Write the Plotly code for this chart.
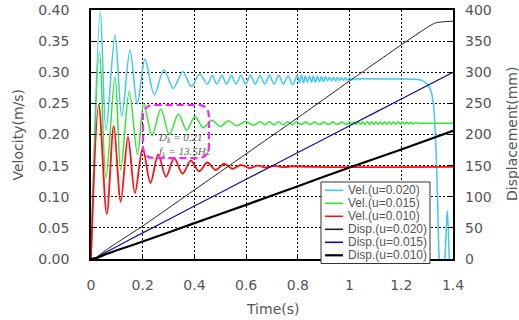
import plotly.graph_objects as go

# ---------------- data ----------------
vel020_t = [0.0, 0.036, 0.058, 0.093, 0.119, 0.151, 0.179, 0.209, 0.245, 0.282, 0.318, 0.355, 0.388, 0.42, 0.45,
            0.469, 0.487, 0.506, 0.524, 0.543, 0.561, 0.58, 0.598, 0.617, 0.635, 0.654, 0.672, 0.69, 0.708,
            0.726, 0.744, 0.762, 0.78,
            0.798, 0.806, 0.814, 0.822, 0.829, 0.837, 0.845, 0.853, 0.860, 0.868, 0.876, 0.884, 0.891, 0.899,
            0.907, 0.915, 0.922, 0.930, 0.938, 0.946, 0.953, 0.961, 0.969, 0.977, 0.984, 0.992, 1.000, 1.008,
            1.015, 1.023, 1.031, 1.039, 1.046, 1.054, 1.062, 1.070, 1.08, 1.10, 1.15, 1.20, 1.25, 1.28, 1.30,
            1.315, 1.325, 1.333, 1.34, 1.347, 1.357, 1.368, 1.378, 1.386, 1.393, 1.40]
vel020_v = [0.0, 0.398, 0.207, 0.36, 0.229, 0.336, 0.249, 0.321, 0.264, 0.304, 0.274, 0.301, 0.277, 0.297, 0.281,
            0.295, 0.281, 0.295, 0.281, 0.295, 0.281, 0.295, 0.281, 0.295, 0.281, 0.295, 0.281, 0.295, 0.281,
            0.295, 0.281, 0.294, 0.280,
            0.295, 0.283, 0.295, 0.283, 0.294, 0.284, 0.294, 0.284, 0.294, 0.284, 0.293, 0.285, 0.293, 0.285,
            0.293, 0.286, 0.292, 0.286, 0.292, 0.286, 0.292, 0.287, 0.291, 0.287, 0.291, 0.287, 0.291, 0.288,
            0.290, 0.288, 0.290, 0.288, 0.290, 0.289, 0.290, 0.289, 0.2895, 0.2893, 0.289, 0.289, 0.2888, 0.287, 0.281,
            0.27, 0.245, 0.19, 0.10, 0.0, -0.03, 0.0, 0.078, 0.0, -0.03, 0.0]

vel015_t = [0.0, 0.033, 0.058, 0.093, 0.115, 0.148, 0.18, 0.204, 0.236, 0.27, 0.303, 0.338, 0.37, 0.402, 0.434,
            0.467, 0.5, 0.531, 0.563, 0.596, 0.628, 0.655, 0.673, 0.690, 0.708, 0.725, 0.743, 0.760, 0.778,
            0.795, 0.813, 0.830, 0.848, 0.865, 0.883, 0.900, 0.918, 0.935, 0.953, 0.970, 0.988,
            1.0, 1.0085, 1.017, 1.0255, 1.034, 1.0425, 1.051, 1.0595, 1.068, 1.0765, 1.085, 1.0935, 1.102,
            1.1105, 1.119, 1.1275, 1.136, 1.1445, 1.153, 1.1615, 1.170, 1.1785, 1.187, 1.1955, 1.204, 1.2125,
            1.221, 1.2295, 1.238, 1.2465, 1.255, 1.27, 1.30, 1.40]
vel015_v = [0.0, 0.333, 0.13, 0.293, 0.143, 0.269, 0.168, 0.250, 0.198, 0.241, 0.200, 0.233, 0.207, 0.229, 0.211,
            0.223, 0.213, 0.222, 0.214, 0.221, 0.215, 0.2205, 0.2155, 0.2205, 0.2155, 0.2205, 0.2155, 0.2205, 0.2155,
            0.2205, 0.216, 0.220, 0.216, 0.220, 0.216, 0.220, 0.216, 0.220, 0.216, 0.220, 0.216,
            0.2205, 0.216, 0.2205, 0.216, 0.2205, 0.216, 0.2205, 0.216, 0.2205, 0.216, 0.2205, 0.216, 0.2205,
            0.216, 0.2205, 0.216, 0.2205, 0.216, 0.2205, 0.216, 0.2205, 0.216, 0.2205, 0.2165, 0.220, 0.2165,
            0.220, 0.217, 0.2195, 0.217, 0.219, 0.218, 0.218, 0.218]

vel010_t = [0.0, 0.03, 0.061, 0.088, 0.115, 0.143, 0.17, 0.2, 0.23, 0.26, 0.29, 0.322, 0.354, 0.386, 0.418,
            0.45, 0.482, 0.515, 0.548, 0.58, 0.612, 0.645, 0.677, 0.71, 0.745, 0.78, 0.85, 1.40]
vel010_v = [0.0, 0.248, 0.072, 0.214, 0.092, 0.196, 0.106, 0.178, 0.122, 0.168, 0.132, 0.162, 0.137, 0.158, 0.141,
            0.155, 0.143, 0.153, 0.145, 0.151, 0.146, 0.150, 0.147, 0.1495, 0.1475, 0.149, 0.148, 0.148]

disp020_t = [0.0, 0.02, 0.05, 0.1, 0.2, 0.4, 0.6, 0.8, 1.0, 1.2, 1.3, 1.33, 1.36, 1.4]
disp020_d = [0.0, 2.5, 12, 26, 53, 111, 169, 227, 286, 344, 372, 379, 381, 382]

disp015_t = [0.0, 0.02, 0.05, 0.1, 0.2, 0.4, 0.6, 0.8, 1.0, 1.2, 1.4]
disp015_d = [0.0, 2, 9, 20, 42, 85, 128, 171, 214, 257, 300]

disp010_t = [0.0, 0.02, 0.05, 0.1, 0.2, 0.4, 0.6, 0.8, 1.0, 1.2, 1.4]
disp010_d = [0.0, 1.5, 6.5, 14, 28, 57.6, 87, 117, 147, 176, 206]

x_ticks = [0, 0.2, 0.4, 0.6, 0.8, 1.0, 1.2, 1.4]
x_tick_labels = ["0", "0.2", "0.4", "0.6", "0.8", "1", "1.2", "1.4"]
v_ticks = [0.0, 0.05, 0.10, 0.15, 0.20, 0.25, 0.30, 0.35, 0.40]
d_ticks = [0, 50, 100, 150, 200, 250, 300, 350, 400]

legend_names = ["Vel.(u=0.020)", "Vel.(u=0.015)", "Vel.(u=0.010)",
                "Disp.(u=0.020)", "Disp.(u=0.015)", "Disp.(u=0.010)"]
colors = ["#3FC8F2", "#33E633", "#FF1010", "#222222", "#101090", "#000000"]
widths = [1.5, 1.5, 1.8, 1.0, 1.2, 2.2]

x_title = "Time(s)"
y_title = "Velocity(m/s)"
y2_title = "Displacement(mm)"
annot_text = ("<i>D</i><sub><i>k</i></sub><i> = 0.21</i><br>"
              "<i>f</i><sub><i>k</i></sub><i> = 13.5Hz</i>")

# ---------------- figure ----------------
fig = go.Figure()
series = [(disp020_t, disp020_d, 3), (disp015_t, disp015_d, 4), (disp010_t, disp010_d, 5)]
for t, d, i in series:
    fig.add_trace(go.Scatter(x=t, y=d, mode="lines", name=legend_names[i], yaxis="y2",
                             line=dict(color=colors[i], width=widths[i], shape="spline", smoothing=0.6),
                             showlegend=False))
vseries = [(vel020_t, vel020_v, 0), (vel015_t, vel015_v, 1), (vel010_t, vel010_v, 2)]
for t, v, i in vseries:
    fig.add_trace(go.Scatter(x=t, y=v, mode="lines", name=legend_names[i], yaxis="y",
                             line=dict(color=colors[i], width=widths[i], shape="spline", smoothing=0.9),
                             showlegend=False))

TXT = "#555555"
tickfont = dict(family="DejaVu Sans", size=14, color=TXT)
titlefont = dict(family="DejaVu Sans", size=14, color=TXT)

fig.update_layout(
    width=519, height=320,
    margin=dict(l=91, r=66, t=10, b=61, autoexpand=False),
    paper_bgcolor="white", plot_bgcolor="white",
    showlegend=False,
    xaxis=dict(range=[0, 1.4], tickvals=x_ticks, ticktext=x_tick_labels, tickfont=tickfont,
               showgrid=True, gridcolor="black", griddash="2px,2px", gridwidth=1.3,
               showline=True, linecolor="black", linewidth=1.5, mirror=True,
               ticks="inside", ticklen=5, tickcolor="black", ticklabelstandoff=12,
               zeroline=False),
    yaxis=dict(range=[0, 0.4], tickvals=v_ticks, tickformat=".2f", tickfont=tickfont,
               showgrid=True, gridcolor="black", griddash="2px,2px", gridwidth=1.3,
               showline=True, linecolor="black", linewidth=1.5, mirror=True,
               ticks="inside", ticklen=5, tickcolor="black", ticklabelstandoff=17,
               zeroline=False),
    yaxis2=dict(range=[0, 400], tickvals=d_ticks, tickfont=tickfont, overlaying="y", side="right",
                showgrid=False, zeroline=False, showline=False,
                ticks="inside", ticklen=5, tickcolor="black", ticklabelstandoff=11),
)

PL, PT, PW, PH = 91, 10, 362, 249
def px(xp):
    return (xp - PL) / PW
def py(yp):
    return (PT + PH - yp) / PH

# axis titles
fig.add_annotation(x=px(272), y=py(309), xref="paper", yref="paper", text=x_title, showarrow=False,
                   xanchor="center", yanchor="middle", font=titlefont)
fig.add_annotation(x=px(17.5), y=py(135), xref="paper", yref="paper", text=y_title, showarrow=False,
                   textangle=-90, xanchor="center", yanchor="middle", font=titlefont)
fig.add_annotation(x=px(512), y=py(134), xref="paper", yref="paper", text=y2_title, showarrow=False,
                   textangle=-90, xanchor="center", yanchor="middle", font=titlefont)

# magenta rounded dashed box around damping annotation
x0, x1, y0, y1 = 0.201, 0.456, 0.162, 0.2476
rx, ry = 0.045, 0.019
path = (f"M {x0+rx},{y1} L {x1-rx},{y1} Q {x1},{y1} {x1},{y1-ry} L {x1},{y0+ry} "
        f"Q {x1},{y0} {x1-rx},{y0} L {x0+rx},{y0} Q {x0},{y0} {x0},{y0+ry} "
        f"L {x0},{y1-ry} Q {x0},{y1} {x0+rx},{y1} Z")
fig.add_shape(type="path", path=path, xref="x", yref="y",
              line=dict(color="#FF22FF", width=2.2, dash="7px,4px"))
afont = dict(family="Liberation Serif", size=11, color="#666666")
fig.add_annotation(x=0.252, y=0.182, xref="x", yref="y", text=annot_text, showarrow=False,
                   xanchor="left", yanchor="middle", align="left", font=afont)

# compact legend box (pixel geometry converted to paper coords)
fig.add_shape(type="rect", xref="paper", yref="paper", x0=px(321), x1=px(430), y0=py(263.5), y1=py(182),
              line=dict(color="#333333", width=1), fillcolor="white", layer="above")
row_y = [190.3, 203.3, 216.3, 229.3, 242.3, 255.3]
lfont = dict(family="Liberation Sans", size=12, color=TXT)
for i, name in enumerate(legend_names):
    fig.add_shape(type="line", xref="paper", yref="paper", x0=px(325), x1=px(343),
                  y0=py(row_y[i]), y1=py(row_y[i]),
                  line=dict(color=colors[i], width=(2.2 if i == 5 else 1.6)), layer="above")
    fig.add_annotation(x=px(346), y=py(row_y[i]), xref="paper", yref="paper", text=name,
                       showarrow=False, xanchor="left", yanchor="middle", font=lfont)

fig.write_html("out.html", config={"displayModeBar": False},
               post_script="document.body.style.margin='0px';document.body.style.overflow='hidden';")
